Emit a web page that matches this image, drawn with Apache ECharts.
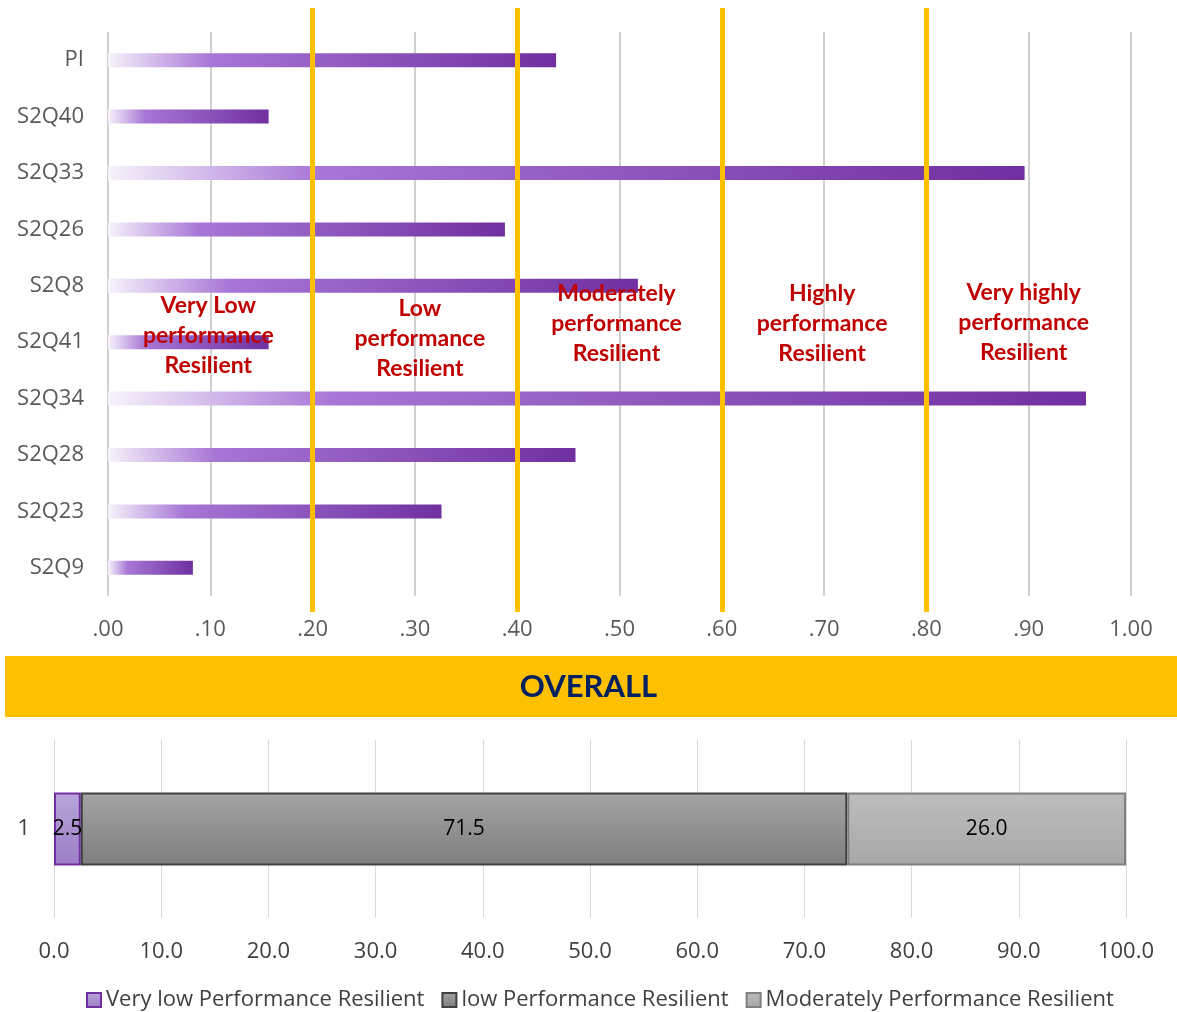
<!DOCTYPE html>
<html>
<head>
<meta charset="utf-8">
<script src="https://cdn.jsdelivr.net/npm/echarts@6/dist/echarts.min.js"></script>
<style>
  html, body { margin: 0; padding: 0; background: #ffffff; }
  #chart { width: 1177px; height: 1012px; }
</style>
</head>
<body>
<div id="chart"></div>
<script>
// Item scores (0–1) per question
const categories = ['PI', 'S2Q40', 'S2Q33', 'S2Q26', 'S2Q8', 'S2Q41', 'S2Q34', 'S2Q28', 'S2Q23', 'S2Q9'];
const scores = [0.438, 0.157, 0.896, 0.388, 0.518, 0.157, 0.956, 0.457, 0.326, 0.083];

// Resilience band boundaries and names
const thresholds = [0.2, 0.4, 0.6, 0.8];
const bandNames = [
  'Very Low\nperformance\nResilient',
  'Low\nperformance\nResilient',
  'Moderately\nperformance\nResilient',
  'Highly\nperformance\nResilient',
  'Very highly\nperformance\nResilient'
];

// Overall distribution (%)
const overallCategory = ['1'];
const overallNames = ['Very low Performance Resilient', 'low Performance Resilient', 'Moderately Performance Resilient'];
const overallValues = [2.5, 71.5, 26.0];

const chart = echarts.init(document.getElementById('chart'));

const axisFont = 'Open Sans';
const redFont = 'Lato';

// band label centres: midpoint of each band, nudged slightly; vertical placement in the overlay grid
const bandEdges = [0].concat(thresholds, [1]);
const bandLabelY = [0.542, 0.548, 0.523, 0.523, 0.521];
const bandLabelNudge = [-2, 5, -3, -2, -5];
const bandData = bandNames.map((n, i) => ({
  value: [(bandEdges[i] + bandEdges[i + 1]) / 2, bandLabelY[i]],
  name: n,
  label: { offset: [bandLabelNudge[i], 0] }
}));

const overallStyles = [
  { colors: ['#b9a6da', '#9b7dc5'], border: '#7030a0' },
  { colors: ['#a4a4a4', '#7e7e7e'], border: '#404040' },
  { colors: ['#bdbdbd', '#a7a7a7'], border: '#7f7f7f' }
];

const option = {
  animation: false,
  backgroundColor: '#ffffff',
  grid: [
    { left: 108, right: 46, top: 32, height: 564, containLabel: false },
    { left: 108, right: 46, top: 8, height: 604, containLabel: false },
    { left: 54, right: 51, top: 740, height: 178, containLabel: false }
  ],
  xAxis: [
    {
      gridIndex: 0, type: 'value', min: 0, max: 1, interval: 0.1,
      axisLine: { show: false }, axisTick: { show: false },
      splitLine: { show: true, lineStyle: { color: '#d0d0d0', width: 2 } },
      axisLabel: {
        margin: 23, color: '#595959', fontSize: 22, fontFamily: axisFont,
        formatter: v => v >= 1 ? '1.00' : v.toFixed(2).replace(/^0/, '')
      }
    },
    {
      gridIndex: 1, type: 'value', min: 0, max: 1, show: false
    },
    {
      gridIndex: 2, type: 'value', min: 0, max: 100, interval: 10,
      axisLine: { show: false }, axisTick: { show: false },
      splitLine: { show: true, lineStyle: { color: '#d9d9d9', width: 1 } },
      axisLabel: {
        margin: 23, color: '#404040', fontSize: 22, fontFamily: axisFont,
        formatter: v => v.toFixed(1)
      }
    }
  ],
  yAxis: [
    {
      gridIndex: 0, type: 'category', data: categories, inverse: true,
      axisLine: { show: false }, axisTick: { show: false },
      axisLabel: { margin: 24, color: '#595959', fontSize: 22, fontFamily: axisFont }
    },
    {
      gridIndex: 1, type: 'value', min: 0, max: 1, inverse: true, show: false
    },
    {
      gridIndex: 2, type: 'category', data: overallCategory,
      axisLine: { show: false }, axisTick: { show: false },
      axisLabel: { margin: 24, color: '#404040', fontSize: 22, fontFamily: axisFont }
    }
  ],
  legend: {
    top: 984, left: 81,
    icon: 'rect', itemWidth: 14, itemHeight: 14, itemGap: 17,
    textStyle: { color: '#404040', fontSize: 22, fontFamily: axisFont },
    data: overallNames
  },
  graphic: [
    {
      type: 'rect', left: 5, top: 656, z: 0,
      shape: { width: 1172, height: 61 },
      style: { fill: '#ffc000' }
    },
    {
      type: 'text', left: 'center', top: 671, z: 1,
      style: {
        text: 'OVERALL', fill: '#002060',
        font: 'bold 31px Lato'
      }
    }
  ],
  series: [
    {
      type: 'bar', xAxisIndex: 0, yAxisIndex: 0,
      data: scores, barWidth: 14, z: 2,
      itemStyle: {
        color: {
          type: 'linear', x: 0, y: 0, x2: 1, y2: 0,
          colorStops: [
            { offset: 0, color: '#f7f3fb' },
            { offset: 0.23, color: '#a776d6' },
            { offset: 1, color: '#7030a0' }
          ]
        }
      }
    },
    {
      type: 'scatter', xAxisIndex: 1, yAxisIndex: 1,
      data: [], z: 5, silent: true,
      markLine: {
        silent: true, symbol: 'none',
        label: { show: false },
        lineStyle: { color: '#ffc000', width: 5, type: 'solid', opacity: 1 },
        data: thresholds.map(t => ({ xAxis: t }))
      }
    },
    {
      type: 'scatter', xAxisIndex: 1, yAxisIndex: 1,
      data: bandData, z: 10, silent: true,
      symbolSize: 1, itemStyle: { color: 'rgba(0,0,0,0)', opacity: 1 },
      label: {
        show: true, position: 'inside',
        formatter: p => p.name,
        color: '#c00000', fontSize: 23, fontWeight: 'bold',
        fontFamily: redFont, lineHeight: 30, align: 'center',
        textBorderWidth: 0
      }
    }
  ].concat(overallValues.map((v, i) => ({
    name: overallNames[i],
    type: 'bar', stack: 'overall', xAxisIndex: 2, yAxisIndex: 2,
    barWidth: 73,
    data: [v],
    itemStyle: {
      color: {
        type: 'linear', x: 0, y: 0, x2: 0, y2: 1,
        colorStops: [
          { offset: 0, color: overallStyles[i].colors[0] },
          { offset: 1, color: overallStyles[i].colors[1] }
        ]
      },
      borderColor: overallStyles[i].border,
      borderWidth: 2
    },
    label: {
      show: true, position: 'inside', color: '#000000',
      fontSize: 21, fontFamily: axisFont,
      formatter: p => Number(p.value).toFixed(1)
    }
  })))
};

chart.setOption(option);
</script>
</body>
</html>
